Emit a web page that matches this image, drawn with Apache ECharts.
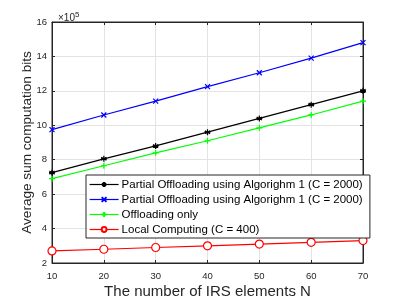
<!DOCTYPE html>
<html><head><meta charset="utf-8">
<script src="https://cdn.jsdelivr.net/npm/echarts@6/dist/echarts.min.js"></script>
<style>html,body{margin:0;padding:0;background:#fff}#c{width:402px;height:301px}</style>
</head><body><div id="c"></div>
<script>
const nValues = [10, 20, 30, 40, 50, 60, 70];
const partialA = [7.25, 8.05, 8.8, 9.6, 10.4, 11.2, 12.0];
const partialB = [9.75, 10.6, 11.4, 12.25, 13.05, 13.9, 14.8];
const offloadOnly = [6.9, 7.65, 8.4, 9.1, 9.85, 10.6, 11.4];
const localComp = [2.7, 2.8, 2.9, 3.0, 3.1, 3.2, 3.3];
const names = ['Partial Offloading using Algorighm 1 (C = 2000)', 'Partial Offloading using Algorighm 1 (C = 2000) ', 'Offloading only', 'Local Computing (C = 400)'];

const pair = arr => nValues.map((n, i) => [n, arr[i]]);
const txt = '#262626';
const font = 'Liberation Sans, Arial, sans-serif';
const chart = echarts.init(document.getElementById('c'));
const star = 'path://M0,-1L0,1M-0.87,-0.5L0.87,0.5M-0.87,0.5L0.87,-0.5M-1,0L1,0';
const xs = 'path://M-1,-1L1,1M-1,1L1,-1';
const plus = 'path://M0,-1L0,1M-1,0L1,0';
function mk(name, data, color, symbol, size, fill) {
  return {
    name: name, type: 'line', data: pair(data), symbol: symbol, symbolSize: size,
    lineStyle: {color: color, width: 1.2},
    itemStyle: {color: fill, borderColor: color, borderWidth: 1.2},
    emphasis: {disabled: true}, z: 3
  };
}
const series = [
  mk(names[0], partialA, '#000000', star, 6, '#000000'),
  mk(names[1], partialB, '#0000ff', xs, 5, '#0000ff'),
  mk(names[2], offloadOnly, '#00ff00', plus, 6, '#00ff00'),
  mk(names[3], localComp, '#ff0000', 'circle', 8, '#ffffff')
];
chart.setOption({
  animation: false,
  title: {text: '×10{s|5}', left: 53, top: 6, textStyle: {color: txt, fontSize: 10, fontWeight: 'normal', fontFamily: font, rich: {s: {fontSize: 8, verticalAlign: 'top', color: txt, padding: [0,0,6,0]}}}},
  grid: {left: 52, right: 39, top: 22, bottom: 38, show: true, borderColor: txt, borderWidth: 1, containLabel: false, outerBoundsMode: 'none'},
  legend: {
    orient: 'vertical', left: 86, top: 175, width: 277,
    backgroundColor: '#fff', borderColor: txt, borderWidth: 1, borderRadius: 0,
    padding: [3, 4, 2, 3], itemWidth: 29, itemHeight: 6, itemGap: 2,
    lineStyle: {width: 1.2},
    textStyle: {color: '#000', fontSize: 11.5, lineHeight: 13, fontFamily: font, padding: [0, 0, 0, -2]},
    data: names
  },
  xAxis: [{
    type: 'value', min: 10, max: 70, interval: 10,
    name: 'The number of IRS elements N', nameLocation: 'middle', nameGap: 21, nameMoveOverlap: false,
    nameTextStyle: {color: txt, fontSize: 15, fontFamily: font, verticalAlign: 'top'},
    axisLine: {show: true, lineStyle: {color: txt}},
    axisTick: {inside: true, length: 3, lineStyle: {color: txt}},
    axisLabel: {color: txt, fontSize: 9.5, fontFamily: font, margin: 8},
    splitLine: {show: true, lineStyle: {color: '#e3e3e3'}}
  }, {
    type: 'value', min: 10, max: 70, interval: 10, position: 'top',
    axisLine: {show: true, lineStyle: {color: txt}},
    axisTick: {inside: true, length: 3, lineStyle: {color: txt}},
    axisLabel: {show: false}, splitLine: {show: false}
  }],
  yAxis: [{
    type: 'value', min: 2, max: 16, interval: 2,
    name: 'Average sum computation bits', nameLocation: 'middle', nameGap: 18, nameRotate: 90, nameMoveOverlap: false,
    nameTextStyle: {color: txt, fontSize: 13.6, fontFamily: font, verticalAlign: 'bottom'},
    axisLine: {show: true, lineStyle: {color: txt}},
    axisTick: {inside: true, length: 3, lineStyle: {color: txt}},
    axisLabel: {color: txt, fontSize: 9.5, fontFamily: font, margin: 5},
    splitLine: {show: true, lineStyle: {color: '#e3e3e3'}}
  }, {
    type: 'value', min: 2, max: 16, interval: 2, position: 'right',
    axisLine: {show: true, lineStyle: {color: txt}},
    axisTick: {inside: true, length: 3, lineStyle: {color: txt}},
    axisLabel: {show: false}, splitLine: {show: false}
  }],
  series: series
});
</script></body></html>
